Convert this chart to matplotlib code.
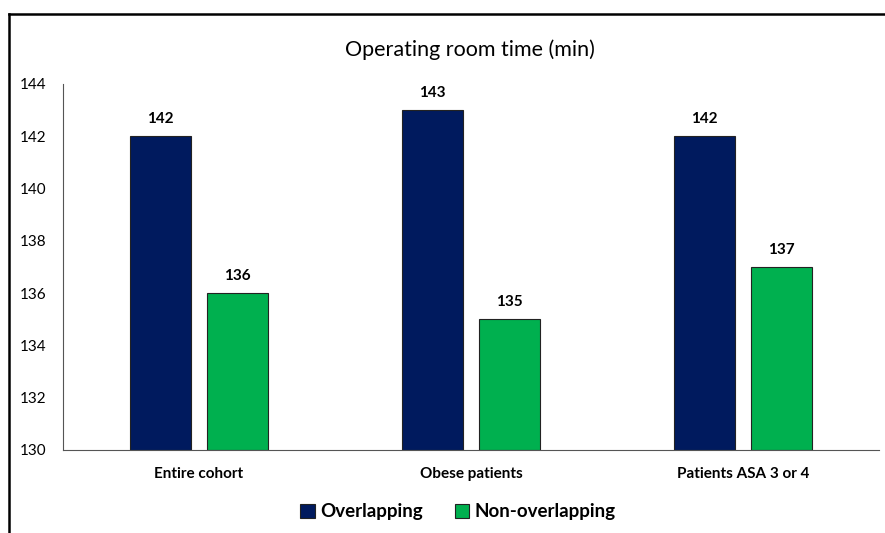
import matplotlib
matplotlib.use("Agg")
import matplotlib.pyplot as plt
import matplotlib.lines as mlines
import numpy as np

categories = ["Entire cohort", "Obese patients", "Patients ASA 3 or 4"]
overlapping = [142, 143, 142]
non_overlapping = [136, 135, 137]
yticks = [130, 132, 134, 136, 138, 140, 142, 144]

plt.rcParams['font.family'] = ['Lato', 'DejaVu Sans']

fig = plt.figure(figsize=(8.85, 5.33), dpi=100)
ax = fig.add_axes([63/885., 1-450/533., 816/885., 366/533.])

x = np.arange(len(categories))
w = 0.224
off = 0.1415
navy = '#001a5e'
green = '#00b04f'
b1 = ax.bar(x - off, [v - 130 for v in overlapping], w, bottom=130, color=navy,
            edgecolor='#222222', linewidth=0.8, label='Overlapping')
b2 = ax.bar(x + off, [v - 130 for v in non_overlapping], w, bottom=130, color=green,
            edgecolor='#222222', linewidth=0.8, label='Non-overlapping')

for xi, v in zip(x - off, overlapping):
    ax.text(xi, v + 0.4, str(v), ha='center', va='bottom', fontsize=11, fontweight='bold')
for xi, v in zip(x + off, non_overlapping):
    ax.text(xi, v + 0.4, str(v), ha='center', va='bottom', fontsize=11, fontweight='bold')

ax.set_xlim(-0.5, 2.5)
ax.set_ylim(130, 144)
ax.set_yticks(yticks)
ax.set_yticklabels([str(t) for t in yticks], fontsize=11)
ax.set_xticks(x)
ax.set_xticklabels(categories, fontsize=11, fontweight='bold')
ax.tick_params(axis='x', length=0, pad=12)
ax.tick_params(axis='y', length=0, pad=12)
for s in ['top', 'right']:
    ax.spines[s].set_visible(False)
ax.spines['left'].set_color('#555555')
ax.spines['bottom'].set_color('#555555')

fig.text(470/885., 1-50/533., 'Operating room time (min)', ha='center', va='center', fontsize=15.5)

fig.legend([b1, b2], ['Overlapping', 'Non-overlapping'], loc='center',
           bbox_to_anchor=(458/885., 1-512/533.), ncol=2, frameon=False,
           prop={'size': 13.5, 'weight': 'bold'}, handlelength=0.75, handleheight=0.75,
           handletextpad=0.3, columnspacing=1.7)

# outer frame (left and top edges visible)
fig.add_artist(mlines.Line2D([9/885., 9/885.], [0, 1-14/533.], color='black', linewidth=1.8,
                             transform=fig.transFigure))
fig.add_artist(mlines.Line2D([9/885., 1], [1-14/533., 1-14/533.], color='black', linewidth=1.8,
                             transform=fig.transFigure))

plt.savefig('out.png', dpi=100)
